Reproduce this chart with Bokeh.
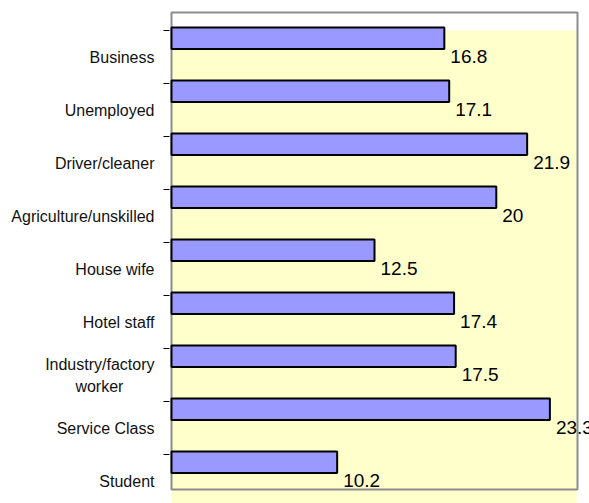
import numpy as np
from bokeh.plotting import figure
from bokeh.models import Range1d, LinearAxis, FixedTicker, ColumnDataSource
from bokeh.core.properties import value
from bokeh.embed import file_html
from bokeh.resources import INLINE

categories = ["Business", "Unemployed", "Driver/cleaner", "Agriculture/unskilled",
              "House wife", "Hotel staff", "Industry/factory\nworker\u00a0\u00a0\u00a0\u00a0\u00a0\u00a0\u00a0",
              "Service Class", "Student"]
values = [16.8, 17.1, 21.9, 20, 12.5, 17.4, 17.5, 23.3, 10.2]
value_labels = ["16.8", "17.1", "21.9", "20", "12.5", "17.4", "17.5", "23.3", "10.2"]

FONT = "Liberation Sans"
idx = np.arange(len(categories))
SCALE_X = 16.24   # px per unit
SCALE_Y = 53.0    # px per category band

p = figure(width=589, height=503, output_backend="svg", toolbar_location=None,
           x_axis_type=None, y_axis_type=None,
           x_range=Range1d(-2 / SCALE_X, 25 + 12 / SCALE_X),
           y_range=Range1d((503 - 12) / SCALE_Y, -2 / SCALE_Y),
           min_border_left=169, min_border_right=0, min_border_top=10, min_border_bottom=0)
p.outline_line_color = None
p.xgrid.visible = False
p.ygrid.visible = False
p.background_fill_color = "white"
p.border_fill_color = "white"

# plot area background and border
p.quad(left=[0], right=[24.95], top=[0.34], bottom=[9.6], fill_color="#FFFFCC", line_color=None)
p.quad(left=[0], right=[25], top=[0], bottom=[9], fill_color=None, line_color="#8C8C8C", line_width=2)

src = ColumnDataSource(dict(y=idx + 0.486, v=values, ly=idx + 0.83, lab=value_labels))
p.hbar(y="y", right="v", left=0, height=0.405, source=src,
       fill_color="#9999FF", line_color="black", line_width=2)
p.text(x="v", y="ly", text="lab", source=src, x_offset=6, text_baseline="middle",
       text_align="left", text_font=value(FONT), text_font_size="19px", text_color="black")

# tick-only axis (inner)
tick_pos = idx + 0.34
tick_axis = LinearAxis(ticker=FixedTicker(ticks=list(tick_pos)))
tick_axis.axis_line_color = None
tick_axis.major_tick_in = 0
tick_axis.major_tick_out = 6
tick_axis.major_tick_line_color = "black"
tick_axis.minor_tick_line_color = None
tick_axis.major_label_text_font_size = "0px"
tick_axis.major_label_standoff = 0
tick_axis.major_label_overrides = {float(t): "" for t in tick_pos}
p.add_layout(tick_axis, "left")

# label axis (outer)
lab_pos = idx + 0.85
label_axis = LinearAxis(ticker=FixedTicker(ticks=list(lab_pos)))
label_axis.axis_line_color = None
label_axis.major_tick_line_color = None
label_axis.minor_tick_line_color = None
label_axis.major_label_standoff = 3
label_axis.major_label_text_font = FONT
label_axis.major_label_text_font_size = "16px"
label_axis.major_label_text_color = "#111111"
label_axis.major_label_text_line_height = 1.3
label_axis.major_label_overrides = {float(t): c for t, c in zip(lab_pos, categories)}
p.add_layout(label_axis, "left")

open("out.html", "w").write(file_html(p, INLINE))
